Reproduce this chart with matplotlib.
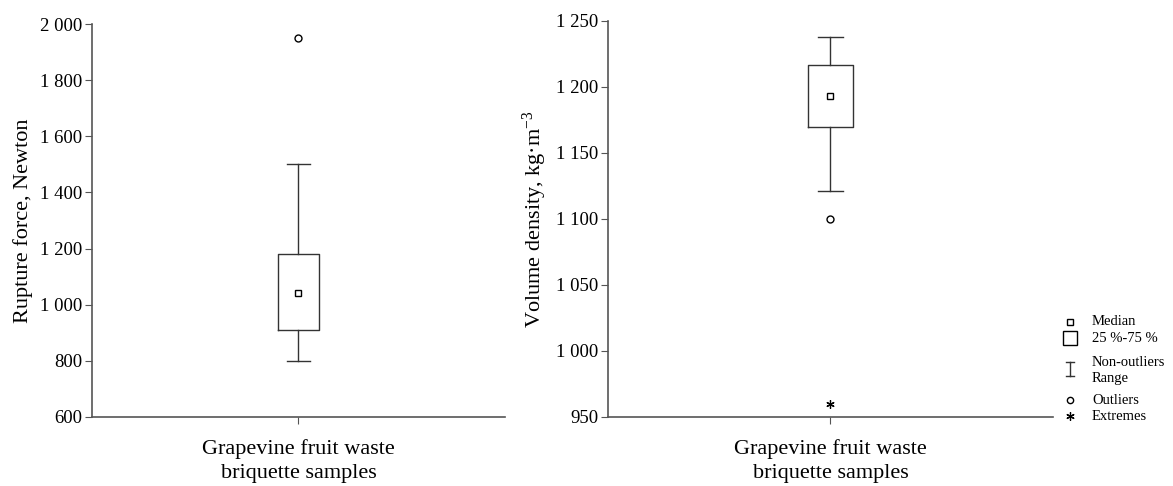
import matplotlib
matplotlib.use("Agg")
import matplotlib.pyplot as plt
from matplotlib.lines import Line2D
from matplotlib.ticker import FuncFormatter

plt.rcParams['font.family'] = ['Liberation Serif', 'DejaVu Serif']
plt.rcParams['mathtext.fontset'] = 'custom'
plt.rcParams['mathtext.rm'] = 'Liberation Serif'
plt.rcParams['mathtext.it'] = 'Liberation Serif:italic'

category = "Grapevine fruit waste\nbriquette samples"

# rupture force, Newton
force_q1, force_med, force_q3 = 910, 1040, 1180
force_lo, force_hi = 800, 1500
force_outliers = [1950]
force_extremes = []

# volume density, kg/m3
dens_q1, dens_med, dens_q3 = 1170, 1193, 1217
dens_lo, dens_hi = 1121, 1238
dens_outliers = [1100]
dens_extremes = [960]

force_ticks = [600, 800, 1000, 1200, 1400, 1600, 1800, 2000]
dens_ticks = [950, 1000, 1050, 1100, 1150, 1200, 1250]

LINE = "#333333"
SPINE = "#555555"


def thousands(v, pos):
    return f"{int(v):,}".replace(",", " ")


def draw_box(ax, q1, med, q3, lo, hi, outliers, extremes, ticks, ylabel):
    stats = [dict(q1=q1, med=med, q3=q3, whislo=lo, whishi=hi, fliers=[])]
    ax.bxp(stats, positions=[1], widths=0.2, showfliers=False,
           boxprops=dict(color=LINE, lw=1.0),
           whiskerprops=dict(color=LINE, lw=1.0),
           capprops=dict(color=LINE, lw=1.0),
           medianprops=dict(lw=0), capwidths=0.11)
    ax.plot([1], [med], ls="none", marker="s", ms=5, mfc="white", mec="black", mew=1.0)
    if outliers:
        ax.plot([1] * len(outliers), outliers, ls="none", marker="o", ms=5,
                mfc="white", mec="black", mew=1.0)
    if extremes:
        ax.plot([1] * len(extremes), extremes, ls="none", marker=(6, 2, 0), ms=6,
                color="black", mew=0.9)
    ax.set_xlim(0, 2)
    ax.set_ylim(ticks[0], ticks[-1])
    ax.set_yticks(ticks)
    ax.yaxis.set_major_formatter(FuncFormatter(thousands))
    ax.set_xticks([1])
    ax.set_xticklabels([category], fontsize=16, linespacing=1.35)
    for s in ("top", "right"):
        ax.spines[s].set_visible(False)
    for s in ("left", "bottom"):
        ax.spines[s].set_color(SPINE)
        ax.spines[s].set_linewidth(1.2)
    ax.tick_params(axis="y", labelsize=13.5, length=5, color=SPINE, pad=2)
    ax.tick_params(axis="x", length=5, color=SPINE, pad=11)
    ax.set_ylabel(ylabel, fontsize=16, labelpad=5)


fig = plt.figure(figsize=(11.73, 4.86), dpi=100)
ax1 = fig.add_axes([0.0784, 0.142, 0.3521, 0.8086])
ax2 = fig.add_axes([0.5183, 0.142, 0.3794, 0.8148])

draw_box(ax1, force_q1, force_med, force_q3, force_lo, force_hi,
         force_outliers, force_extremes, force_ticks, "Rupture force, Newton")
draw_box(ax2, dens_q1, dens_med, dens_q3, dens_lo, dens_hi,
         dens_outliers, dens_extremes, dens_ticks, "Volume density, kg·m$^{-3}$")

# legend drawn in figure pixels
W, H = 1173, 486


def fx(px):
    return px / W


def fy(py):
    return 1 - py / H


mx, tx = 1070, 1092
fig.add_artist(Line2D([fx(mx)], [fy(322)], ls="none", marker="s", ms=4.5,
                      mfc="white", mec="black", mew=1.0, transform=fig.transFigure))
fig.add_artist(Line2D([fx(mx)], [fy(338)], ls="none", marker="s", ms=10,
                      mfc="white", mec="black", mew=1.0, transform=fig.transFigure))
fig.add_artist(Line2D([fx(mx - 4), fx(mx + 4), None, fx(mx), fx(mx), None, fx(mx - 4), fx(mx + 4)],
                      [fy(362), fy(362), None, fy(362), fy(376), None, fy(376), fy(376)],
                      color=LINE, lw=1.0, transform=fig.transFigure))
fig.add_artist(Line2D([fx(mx)], [fy(400)], ls="none", marker="o", ms=4.5,
                      mfc="white", mec="black", mew=1.0, transform=fig.transFigure))
fig.add_artist(Line2D([fx(mx)], [fy(416)], ls="none", marker=(6, 2, 0), ms=6,
                      color="black", mew=0.9, transform=fig.transFigure))

legend_rows = [("Median", 321), ("25 %-75 %", 338), ("Non-outliers", 362),
               ("Range", 378), ("Outliers", 400), ("Extremes", 416)]
for txt, py in legend_rows:
    fig.text(fx(tx), fy(py), txt, fontsize=10.5, va="center", ha="left")

fig.savefig("out.png", dpi=100)
